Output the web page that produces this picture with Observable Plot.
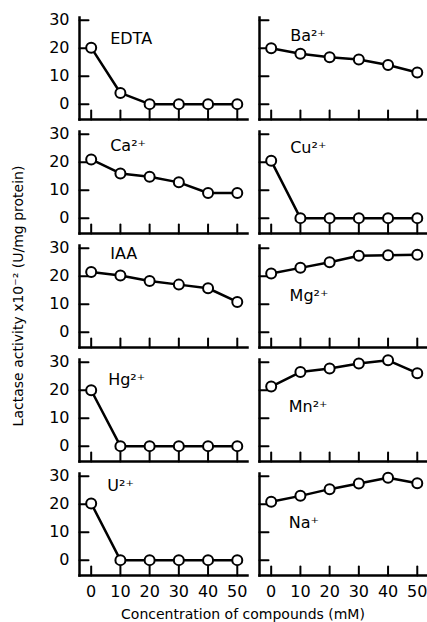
<!DOCTYPE html>
<html>
<head>
<meta charset="utf-8">
<script src="https://cdn.jsdelivr.net/npm/d3@7"></script>
<script src="https://cdn.jsdelivr.net/npm/@observablehq/plot@0.6"></script>
<style>
  body { margin: 0; background: #fff; }
  #wrap { position: relative; width: 427px; height: 622px; font-family: "DejaVu Sans", sans-serif; color: #000; }
  #ylab { position: absolute; left: 18px; top: 296px; transform: translate(-50%, -50%) rotate(-90deg); white-space: nowrap; font-size: 14px; }
  #xlab { position: absolute; left: 243px; top: 614px; transform: translate(-50%, -50%); white-space: nowrap; font-size: 14px; }
</style>
</head>
<body>
<div id="wrap">
  <div id="chart"></div>
  <div id="ylab">Lactase activity x10⁻² (U/mg protein)</div>
  <div id="xlab">Concentration of compounds (mM)</div>
</div>
<script>
// concentrations (mM) on the x axis
const concentrations = [0, 10, 20, 30, 40, 50];
const xTicks = [0, 10, 20, 30, 40, 50];
const yTicks = [0, 10, 20, 30];

// panels, read left column then right column, row by row
const compounds = ["EDTA", "Ba²⁺", "Ca²⁺", "Cu²⁺", "IAA", "Mg²⁺", "Hg²⁺", "Mn²⁺", "U²⁺", "Na⁺"];

// lactase activity x10^-2 (U/mg protein)
const edta = [20.2, 4, 0, 0, 0, 0];
const ba   = [20, 18, 16.8, 16, 14, 11.3];
const ca   = [21, 16, 14.8, 12.8, 9, 9];
const cu   = [20.5, 0, 0, 0, 0, 0];
const iaa  = [21.5, 20.3, 18.3, 17, 15.7, 10.8];
const mg   = [21, 23, 25, 27.3, 27.5, 27.7];
const hg   = [20, 0, 0, 0, 0, 0];
const mn   = [21.3, 26.5, 27.8, 29.6, 30.7, 26.1];
const u    = [20.3, 0, 0, 0, 0, 0];
const na   = [20.9, 23, 25.4, 27.4, 29.5, 27.5];

// where each panel's name sits (data units)
const labelX = [6.5, 6.5, 6.5, 6.5, 6.5, 6.3, 5.8, 6, 5.5, 6];
const labelY = [23.5, 24.6, 26, 25.3, 28, 13.1, 23.8, 14.2, 26.5, 13.5];

const series = [edta, ba, ca, cu, iaa, mg, hg, mn, u, na];
const table = series.flatMap((vals, i) =>
  concentrations.map((c, j) => ({compound: compounds[i], col: i % 2, row: Math.floor(i / 2), x: c, y: vals[j]}))
);
const labels = compounds.map((name, i) => ({name, col: i % 2, row: Math.floor(i / 2), x: labelX[i], y: labelY[i]}));

// a plain straight tick for the vector mark
const tickShape = {draw(context, l) { context.moveTo(0, 0); context.lineTo(0, -l); }};

const chart = Plot.plot({
  width: 427,
  height: 622,
  marginLeft: 79,
  marginRight: 0,
  marginTop: 15,
  marginBottom: 44,
  style: {fontFamily: "DejaVu Sans, sans-serif", fontSize: "16px", color: "black", background: "white", overflow: "visible"},
  fx: {axis: null, padding: 0.0667},
  fy: {axis: null, padding: 0.1043},
  x: {domain: [-4, 53.5]},
  y: {domain: [-5.5, 31]},
  marks: [
    Plot.frame({anchor: "left", strokeWidth: 2.5}),
    Plot.frame({anchor: "bottom", strokeWidth: 2.5}),
    // inward-pointing tick marks, repeated on every panel
    Plot.vector(yTicks, {y: d => d, frameAnchor: "left", rotate: 90, length: 9, anchor: "start", shape: tickShape, stroke: "black", strokeWidth: 2}),
    Plot.vector(xTicks, {x: d => d, frameAnchor: "bottom", rotate: 0, length: 9, anchor: "start", shape: tickShape, stroke: "black", strokeWidth: 2}),
    Plot.axisY({ticks: yTicks, tickSize: 0, tickPadding: 10, fontSize: 16, label: null}),
    Plot.axisX({ticks: xTicks, tickSize: 0, tickPadding: 10, fontSize: 16, label: null}),
    Plot.line(table, {x: "x", y: "y", fx: "col", fy: "row", z: "compound", stroke: "black", strokeWidth: 2.5}),
    Plot.dot(table, {x: "x", y: "y", fx: "col", fy: "row", r: 5, fill: "white", stroke: "black", strokeWidth: 2}),
    Plot.text(labels, {x: "x", y: "y", fx: "col", fy: "row", text: "name", textAnchor: "start", fontSize: 16})
  ]
});
document.getElementById("chart").appendChild(chart);
</script>
</body>
</html>
